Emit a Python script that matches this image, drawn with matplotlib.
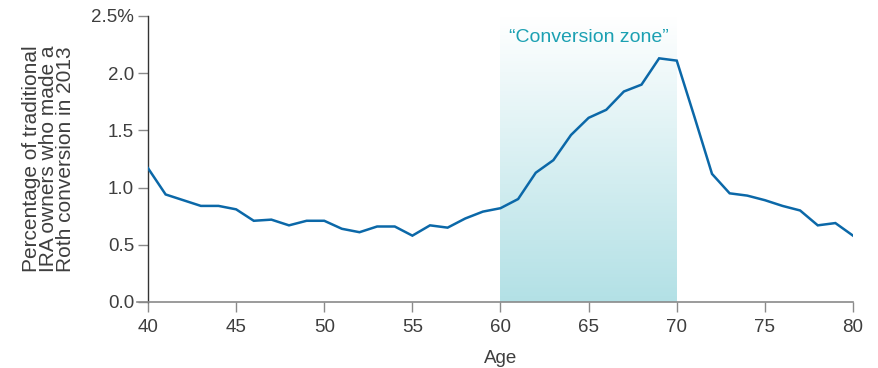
import matplotlib
matplotlib.use("Agg")
import matplotlib.pyplot as plt
import numpy as np

# Roth conversion rate by age, 2013 (percent of traditional IRA owners)
ages = list(range(40, 81))
conversion_pct = [
    1.17, 0.94, 0.89, 0.84, 0.84, 0.81, 0.71, 0.72, 0.67, 0.71,
    0.71, 0.64, 0.61, 0.66, 0.66, 0.58, 0.67, 0.65, 0.73, 0.79,
    0.82, 0.90, 1.13, 1.24, 1.46, 1.61, 1.68, 1.84, 1.90, 2.13,
    2.11, 1.62, 1.12, 0.95, 0.93, 0.89, 0.84, 0.80, 0.67, 0.69,
    0.58,
]
zone_start, zone_end = 60, 70
zone_label = "\u201cConversion zone\u201d"
x_ticks = [40, 45, 50, 55, 60, 65, 70, 75, 80]
y_ticks = [0.0, 0.5, 1.0, 1.5, 2.0, 2.5]
y_tick_labels = ["0.0", "0.5", "1.0", "1.5", "2.0", "2.5%"]

plt.rcParams["font.family"] = ["Liberation Sans", "DejaVu Sans"]

text_color = "#3e3e3e"
line_color = "#0b68a8"

fig = plt.figure(figsize=(8.79, 3.68), dpi=100)
ax = fig.add_axes([148 / 879, 66 / 368, 705 / 879, 286 / 368])

# Shaded zone: vertical gradient from light teal at the bottom to white at the top
grad = np.linspace(0, 1, 256).reshape(-1, 1)
bottom_rgb = np.array([0.70, 0.88, 0.90])
top_rgb = np.array([1.0, 1.0, 1.0])
img = bottom_rgb + (top_rgb - bottom_rgb) * grad[..., None]
ax.imshow(img, extent=[zone_start, zone_end, 0, 2.5], origin="lower",
          aspect="auto", zorder=0, interpolation="bilinear")

ax.plot(ages, conversion_pct, color=line_color, lw=1.8, zorder=3,
        solid_joinstyle="miter")

ax.text((zone_start + zone_end) / 2, 2.31, zone_label, color="#1ba0b2",
        fontsize=14, ha="center", va="center", zorder=4)

ax.set_xlim(40, 80)
ax.set_ylim(0, 2.5)
ax.set_xticks(x_ticks)
ax.set_xticklabels([str(t) for t in x_ticks])
ax.set_yticks(y_ticks)
ax.set_yticklabels(y_tick_labels)

ax.spines["top"].set_visible(False)
ax.spines["right"].set_visible(False)
ax.spines["left"].set_color("#333333")
ax.spines["bottom"].set_color("#8a8a8a")
ax.spines["left"].set_linewidth(1.0)
ax.spines["bottom"].set_linewidth(1.2)
ax.spines["bottom"].set_bounds(39.4, 80)

ax.tick_params(axis="x", direction="out", length=7, width=1.0, color="#8a8a8a",
               labelsize=13.5, labelcolor=text_color, pad=5)
ax.tick_params(axis="y", direction="out", length=7, width=1.0, color="#8a8a8a",
               labelsize=13.5, labelcolor=text_color, pad=3)

ax.set_xlabel("Age", fontsize=13.5, color=text_color, labelpad=10)
ax.set_ylabel("Percentage of traditional\nIRA owners who made a\nRoth conversion in 2013",
              fontsize=15, color=text_color, labelpad=12, linespacing=0.85)

fig.savefig("out.png", dpi=100)
